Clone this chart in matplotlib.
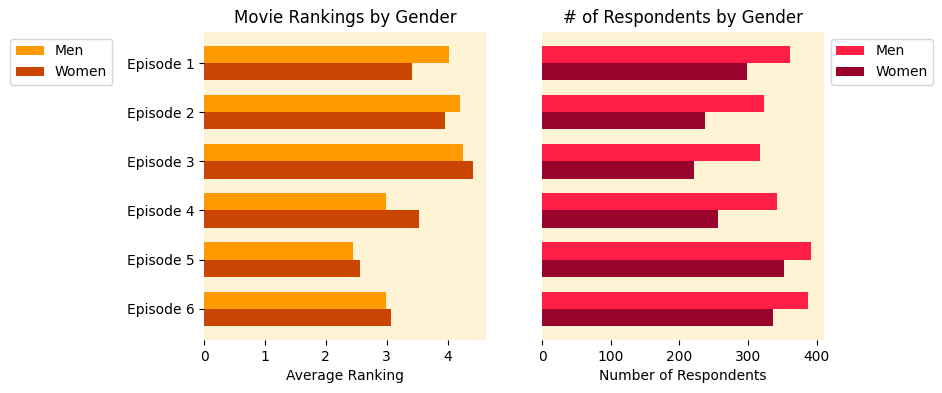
import matplotlib
matplotlib.use('Agg')
import matplotlib.pyplot as plt
import numpy as np

episodes = ['Episode 1', 'Episode 2', 'Episode 3', 'Episode 4', 'Episode 5', 'Episode 6']
rank_men = [4.02, 4.20, 4.25, 2.99, 2.45, 2.99]
rank_women = [3.42, 3.95, 4.41, 3.53, 2.56, 3.07]
resp_men = [361, 323, 317, 342, 391, 387]
resp_women = [298, 237, 222, 256, 353, 337]

BG = '#FFF3D6'
BAR_H = 0.35


def style_axis(ax):
    ax.set_facecolor(BG)
    for s in ax.spines.values():
        s.set_visible(False)
    ax.invert_yaxis()


fig = plt.figure(figsize=(9.42, 3.93), dpi=100)
ax1 = fig.add_axes([0.2166, 0.135, 0.2994, 0.784])
ax2 = fig.add_axes([0.5754, 0.135, 0.2993, 0.784])

y = np.arange(len(episodes))

ax1.barh(y - BAR_H / 2, rank_men, BAR_H, color='#FF9B00', label='Men')
ax1.barh(y + BAR_H / 2, rank_women, BAR_H, color='#CA4502', label='Women')
ax1.set_yticks(y)
ax1.set_yticklabels(episodes)
ax1.set_xlabel('Average Ranking')
ax1.set_title('Movie Rankings by Gender')
style_axis(ax1)
ax1.legend(loc='upper right', bbox_to_anchor=(-0.3, 1.0))

ax2.barh(y - BAR_H / 2, resp_men, BAR_H, color='#FF1E46', label='Men')
ax2.barh(y + BAR_H / 2, resp_women, BAR_H, color='#99032C', label='Women')
ax2.set_yticks([])
ax2.set_xlabel('Number of Respondents')
ax2.set_title('# of Respondents by Gender')
style_axis(ax2)
ax2.legend(loc='upper left', bbox_to_anchor=(1.0, 1.0))

fig.savefig('out.png', dpi=100)
